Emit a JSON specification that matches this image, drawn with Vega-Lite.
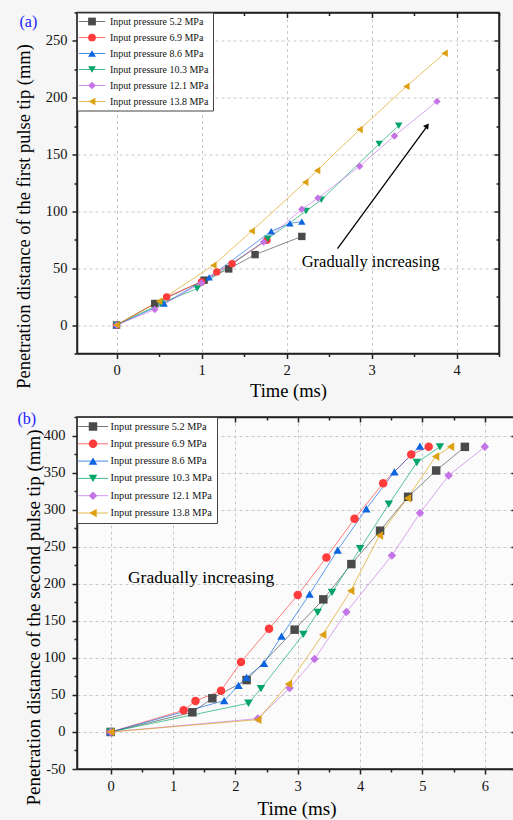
{
  "$schema": "https://vega.github.io/schema/vega-lite/v6.json",
  "background": "#f6f6f6",
  "padding": {"left": 14, "top": 3.5, "right": 0, "bottom": 0},
  "spacing": 6.5,
  "config": {
    "font": "Liberation Serif",
    "view": {"stroke": "#222", "strokeWidth": 1.5},
    "axis": {"labelFont": "Liberation Serif", "titleFont": "Liberation Serif", "titleFontWeight": "normal", "titleColor": "#000", "labelColor": "#111", "tickColor": "#222", "tickWidth": 1.5, "domainColor": "#222", "domainWidth": 1.5, "labelFlush": false, "labelOverlap": false, "gridDash": [3, 3], "gridColor": "#c8c8c8"},
    "legend": {"labelFont": "Liberation Serif", "labelLimit": 300}
  },
  "datasets": {
    "first": [
      {"p": "Input pressure 5.2 MPa", "t": 0, "d": 0},
      {"p": "Input pressure 5.2 MPa", "t": 0.45, "d": 19},
      {"p": "Input pressure 5.2 MPa", "t": 1.03, "d": 39.5},
      {"p": "Input pressure 5.2 MPa", "t": 1.32, "d": 49.4},
      {"p": "Input pressure 5.2 MPa", "t": 1.63, "d": 62},
      {"p": "Input pressure 5.2 MPa", "t": 2.18, "d": 78},
      {"p": "Input pressure 6.9 MPa", "t": 0, "d": 0},
      {"p": "Input pressure 6.9 MPa", "t": 0.59, "d": 24.8},
      {"p": "Input pressure 6.9 MPa", "t": 1.0, "d": 38},
      {"p": "Input pressure 6.9 MPa", "t": 1.18, "d": 46.8},
      {"p": "Input pressure 6.9 MPa", "t": 1.36, "d": 54},
      {"p": "Input pressure 6.9 MPa", "t": 1.77, "d": 74.6},
      {"p": "Input pressure 8.6 MPa", "t": 0, "d": 0},
      {"p": "Input pressure 8.6 MPa", "t": 0.56, "d": 19},
      {"p": "Input pressure 8.6 MPa", "t": 1.09, "d": 42},
      {"p": "Input pressure 8.6 MPa", "t": 1.82, "d": 82.5},
      {"p": "Input pressure 8.6 MPa", "t": 2.04, "d": 89.5},
      {"p": "Input pressure 8.6 MPa", "t": 2.18, "d": 91},
      {"p": "Input pressure 10.3 MPa", "t": 0, "d": 0},
      {"p": "Input pressure 10.3 MPa", "t": 0.52, "d": 19},
      {"p": "Input pressure 10.3 MPa", "t": 0.95, "d": 32.2},
      {"p": "Input pressure 10.3 MPa", "t": 1.78, "d": 76},
      {"p": "Input pressure 10.3 MPa", "t": 2.23, "d": 100.3},
      {"p": "Input pressure 10.3 MPa", "t": 2.41, "d": 110.2},
      {"p": "Input pressure 10.3 MPa", "t": 3.09, "d": 159.4},
      {"p": "Input pressure 10.3 MPa", "t": 3.32, "d": 175.4},
      {"p": "Input pressure 12.1 MPa", "t": 0, "d": 0},
      {"p": "Input pressure 12.1 MPa", "t": 0.45, "d": 13.7},
      {"p": "Input pressure 12.1 MPa", "t": 1.0, "d": 37.1},
      {"p": "Input pressure 12.1 MPa", "t": 1.73, "d": 73},
      {"p": "Input pressure 12.1 MPa", "t": 2.18, "d": 102},
      {"p": "Input pressure 12.1 MPa", "t": 2.37, "d": 111.7},
      {"p": "Input pressure 12.1 MPa", "t": 2.86, "d": 139.8},
      {"p": "Input pressure 12.1 MPa", "t": 3.27, "d": 166.4},
      {"p": "Input pressure 12.1 MPa", "t": 3.77, "d": 196.8},
      {"p": "Input pressure 13.8 MPa", "t": 0, "d": 0},
      {"p": "Input pressure 13.8 MPa", "t": 0.5, "d": 21},
      {"p": "Input pressure 13.8 MPa", "t": 1.14, "d": 52.6},
      {"p": "Input pressure 13.8 MPa", "t": 1.59, "d": 82.7},
      {"p": "Input pressure 13.8 MPa", "t": 2.22, "d": 125.7},
      {"p": "Input pressure 13.8 MPa", "t": 2.36, "d": 136},
      {"p": "Input pressure 13.8 MPa", "t": 2.86, "d": 172},
      {"p": "Input pressure 13.8 MPa", "t": 3.41, "d": 210},
      {"p": "Input pressure 13.8 MPa", "t": 3.86, "d": 239.2}
    ],
    "second": [
      {"p": "Input pressure 5.2 MPa", "t": 0, "d": 0},
      {"p": "Input pressure 5.2 MPa", "t": 1.31, "d": 26.5},
      {"p": "Input pressure 5.2 MPa", "t": 1.63, "d": 45.4},
      {"p": "Input pressure 5.2 MPa", "t": 2.18, "d": 70},
      {"p": "Input pressure 5.2 MPa", "t": 2.95, "d": 138},
      {"p": "Input pressure 5.2 MPa", "t": 3.41, "d": 178.9},
      {"p": "Input pressure 5.2 MPa", "t": 3.86, "d": 226.5},
      {"p": "Input pressure 5.2 MPa", "t": 4.32, "d": 271.5},
      {"p": "Input pressure 5.2 MPa", "t": 4.77, "d": 317.3},
      {"p": "Input pressure 5.2 MPa", "t": 5.22, "d": 352.8},
      {"p": "Input pressure 5.2 MPa", "t": 5.68, "d": 384.7},
      {"p": "Input pressure 6.9 MPa", "t": 0, "d": 0},
      {"p": "Input pressure 6.9 MPa", "t": 1.17, "d": 29.2},
      {"p": "Input pressure 6.9 MPa", "t": 1.36, "d": 41.8},
      {"p": "Input pressure 6.9 MPa", "t": 1.77, "d": 55.7},
      {"p": "Input pressure 6.9 MPa", "t": 2.09, "d": 94.4},
      {"p": "Input pressure 6.9 MPa", "t": 2.54, "d": 139.3},
      {"p": "Input pressure 6.9 MPa", "t": 3.0, "d": 184.7},
      {"p": "Input pressure 6.9 MPa", "t": 3.46, "d": 235.5},
      {"p": "Input pressure 6.9 MPa", "t": 3.91, "d": 287.6},
      {"p": "Input pressure 6.9 MPa", "t": 4.37, "d": 335.7},
      {"p": "Input pressure 6.9 MPa", "t": 4.82, "d": 374.4},
      {"p": "Input pressure 6.9 MPa", "t": 5.1, "d": 384.7},
      {"p": "Input pressure 8.6 MPa", "t": 0, "d": 0},
      {"p": "Input pressure 8.6 MPa", "t": 1.82, "d": 42.2},
      {"p": "Input pressure 8.6 MPa", "t": 2.05, "d": 62.9},
      {"p": "Input pressure 8.6 MPa", "t": 2.18, "d": 73.7},
      {"p": "Input pressure 8.6 MPa", "t": 2.46, "d": 92.6},
      {"p": "Input pressure 8.6 MPa", "t": 2.74, "d": 129.4},
      {"p": "Input pressure 8.6 MPa", "t": 3.19, "d": 186},
      {"p": "Input pressure 8.6 MPa", "t": 3.64, "d": 245.4},
      {"p": "Input pressure 8.6 MPa", "t": 4.1, "d": 301.1},
      {"p": "Input pressure 8.6 MPa", "t": 4.55, "d": 351},
      {"p": "Input pressure 8.6 MPa", "t": 4.96, "d": 385.6},
      {"p": "Input pressure 10.3 MPa", "t": 0, "d": 0},
      {"p": "Input pressure 10.3 MPa", "t": 2.21, "d": 38.7},
      {"p": "Input pressure 10.3 MPa", "t": 2.41, "d": 58.4},
      {"p": "Input pressure 10.3 MPa", "t": 3.09, "d": 131.7},
      {"p": "Input pressure 10.3 MPa", "t": 3.32, "d": 161.3},
      {"p": "Input pressure 10.3 MPa", "t": 3.55, "d": 188.3},
      {"p": "Input pressure 10.3 MPa", "t": 4.0, "d": 247.2},
      {"p": "Input pressure 10.3 MPa", "t": 4.46, "d": 307.4},
      {"p": "Input pressure 10.3 MPa", "t": 4.91, "d": 363.6},
      {"p": "Input pressure 10.3 MPa", "t": 5.28, "d": 384.7},
      {"p": "Input pressure 12.1 MPa", "t": 0, "d": 0},
      {"p": "Input pressure 12.1 MPa", "t": 2.36, "d": 18},
      {"p": "Input pressure 12.1 MPa", "t": 2.87, "d": 59.3},
      {"p": "Input pressure 12.1 MPa", "t": 3.27, "d": 98.4},
      {"p": "Input pressure 12.1 MPa", "t": 3.78, "d": 161.8},
      {"p": "Input pressure 12.1 MPa", "t": 4.51, "d": 238.2},
      {"p": "Input pressure 12.1 MPa", "t": 4.96, "d": 295.3},
      {"p": "Input pressure 12.1 MPa", "t": 5.42, "d": 346},
      {"p": "Input pressure 12.1 MPa", "t": 6.0, "d": 384.7},
      {"p": "Input pressure 13.8 MPa", "t": 0, "d": 0},
      {"p": "Input pressure 13.8 MPa", "t": 2.36, "d": 16.6},
      {"p": "Input pressure 13.8 MPa", "t": 2.85, "d": 64.7},
      {"p": "Input pressure 13.8 MPa", "t": 3.4, "d": 131.2},
      {"p": "Input pressure 13.8 MPa", "t": 3.85, "d": 190.6},
      {"p": "Input pressure 13.8 MPa", "t": 4.31, "d": 265.2},
      {"p": "Input pressure 13.8 MPa", "t": 4.76, "d": 315.5},
      {"p": "Input pressure 13.8 MPa", "t": 5.21, "d": 371.7},
      {"p": "Input pressure 13.8 MPa", "t": 5.45, "d": 384.7}
    ]
  },
  "vconcat": [
    {
      "width": 422,
      "height": 341,
      "view": {"fill": "white"},
      "data": {"name": "first"},
      "layer": [
        {
          "mark": {"type": "line", "strokeWidth": 1, "opacity": 0.65},
          "encoding": {
            "x": {"field": "t", "type": "quantitative", "scale": {"domain": [-0.465, 4.5], "nice": false, "zero": false},
              "axis": {"orient": "bottom", "title": "Time (ms)", "titleFontSize": 18.5, "titlePadding": 4.5,
                "values": [0, 0.5, 1, 1.5, 2, 2.5, 3, 3.5, 4, 4.5],
                "labelExpr": "datum.value % 1 === 0 ? '' + datum.value : ''", "labelFontSize": 14.5, "labelPadding": 5,
                "tickSize": {"condition": {"test": "datum.value % 1 === 0", "value": 5}, "value": 3},
                "grid": true, "gridOpacity": {"condition": {"test": "datum.value % 1 === 0", "value": 1}, "value": 0}}},
            "y": {"field": "d", "type": "quantitative", "scale": {"domain": [-25, 275], "nice": false, "zero": false},
              "axis": {"orient": "left", "title": "Penetration distance of the first pulse tip (mm)", "titleFontSize": 18.5, "titlePadding": 11.5, "titleY": 203.5,
                "values": [-25, 0, 25, 50, 75, 100, 125, 150, 175, 200, 225, 250, 275],
                "labelExpr": "datum.value % 50 === 0 ? '' + datum.value : ''", "labelFontSize": 14.5, "labelPadding": 5,
                "tickSize": {"condition": {"test": "datum.value % 50 === 0", "value": 5}, "value": 3},
                "grid": true, "gridOpacity": {"condition": {"test": "datum.value % 50 === 0", "value": 1}, "value": 0}}},
            "color": {"field": "p", "type": "nominal",
              "scale": {"domain": ["Input pressure 5.2 MPa", "Input pressure 6.9 MPa", "Input pressure 8.6 MPa", "Input pressure 10.3 MPa", "Input pressure 12.1 MPa", "Input pressure 13.8 MPa"],
                "range": ["#4a4a4a", "#ff3b3b", "#0d66e0", "#00a468", "#c474e6", "#dca010"]},
              "legend": {"orient": "none", "legendX": 0, "legendY": 0, "title": null, "symbolType": "M-3.3,0H3.3", "symbolSize": 64, "symbolStrokeWidth": 1, "symbolOpacity": 0.75, "symbolOffset": 6,
                "labelExpr": "''", "labelFontSize": 10, "labelOffset": 13, "padding": 4, "rowPadding": 6, "zindex": 2}}
          }
        },
        {
          "mark": {"type": "point", "filled": true, "size": 55, "opacity": 1},
          "encoding": {
            "x": {"field": "t", "type": "quantitative",
              "axis": {"orient": "top", "title": "(a)", "titleX": -58, "titleY": 1, "titleAngle": 0, "titleAlign": "left", "titleBaseline": "top", "titleColor": "#1a1aff", "titleFontSize": 16, "labels": false, "grid": false,
                "values": [0, 0.5, 1, 1.5, 2, 2.5, 3, 3.5, 4, 4.5],
                "tickSize": {"condition": {"test": "datum.value % 1 === 0", "value": -5}, "value": -3}}},
            "y": {"field": "d", "type": "quantitative",
              "axis": {"orient": "right", "title": null, "labels": false, "grid": false,
                "values": [-25, 0, 25, 50, 75, 100, 125, 150, 175, 200, 225, 250, 275],
                "tickSize": {"condition": {"test": "datum.value % 50 === 0", "value": -5}, "value": -3}}},
            "color": {"field": "p", "type": "nominal",
              "legend": {"orient": "none", "legendX": 0, "legendY": 0, "title": null, "symbolSize": 60, "symbolStrokeWidth": 0, "symbolOffset": 6,
                "labelFontSize": 10, "labelOffset": 13, "padding": 4, "rowPadding": 6, "labelColor": "#111",
                "fillColor": "white", "strokeColor": "#444", "zindex": 1}},
            "shape": {"field": "p", "type": "nominal",
              "scale": {"domain": ["Input pressure 5.2 MPa", "Input pressure 6.9 MPa", "Input pressure 8.6 MPa", "Input pressure 10.3 MPa", "Input pressure 12.1 MPa", "Input pressure 13.8 MPa"],
                "range": ["square", "circle", "triangle-up", "triangle-down", "diamond", "triangle-left"]},
              "legend": {"orient": "none", "legendX": 0, "legendY": 0, "title": null, "symbolSize": 60, "symbolStrokeWidth": 0, "symbolOffset": 6,
                "labelFontSize": 10, "labelOffset": 13, "padding": 4, "rowPadding": 6, "labelColor": "#111",
                "fillColor": "white", "strokeColor": "#444", "zindex": 1}}
          }
        },
        {
          "data": {"values": [{"t": 2.99, "d": 55.5, "label": "Gradually increasing"}]},
          "mark": {"type": "text", "fontSize": 16.5, "font": "Liberation Serif", "color": "#000"},
          "encoding": {
            "x": {"field": "t", "type": "quantitative", "axis": null},
            "y": {"field": "d", "type": "quantitative", "axis": null},
            "text": {"field": "label"}
          }
        },
        {
          "data": {"values": [{"t": 2.6, "d": 67.3, "t2": 3.64, "d2": 173.5}]},
          "mark": {"type": "rule", "strokeWidth": 1.3, "color": "#000"},
          "encoding": {
            "x": {"field": "t", "type": "quantitative", "axis": null},
            "y": {"field": "d", "type": "quantitative", "axis": null},
            "x2": {"field": "t2"},
            "y2": {"field": "d2"}
          }
        },
        {
          "data": {"values": [{"t": 3.655, "d": 175.5}]},
          "mark": {"type": "point", "shape": "triangle-up", "angle": 36, "filled": true, "color": "#000", "size": 40, "opacity": 1},
          "encoding": {
            "x": {"field": "t", "type": "quantitative", "axis": null},
            "y": {"field": "d", "type": "quantitative", "axis": null}
          }
        }
      ],
      "resolve": {"axis": {"x": "independent", "y": "independent"}, "legend": {"color": "independent", "shape": "independent"}}
    },
    {
      "width": 439,
      "height": 352,
      "view": {"fill": "#fbfbfb"},
      "data": {"name": "second"},
      "layer": [
        {
          "mark": {"type": "line", "strokeWidth": 1, "opacity": 0.65},
          "encoding": {
            "x": {"field": "t", "type": "quantitative", "scale": {"domain": [-0.54, 6.5], "nice": false, "zero": false},
              "axis": {"orient": "bottom", "title": "Time (ms)", "titleFontSize": 19, "titlePadding": 7,
                "values": [0, 0.5, 1, 1.5, 2, 2.5, 3, 3.5, 4, 4.5, 5, 5.5, 6, 6.5],
                "labelExpr": "datum.value % 1 === 0 ? '' + datum.value : ''", "labelFontSize": 14.5, "labelPadding": 5,
                "tickSize": {"condition": {"test": "datum.value % 1 === 0", "value": 5}, "value": 3},
                "grid": true, "gridOpacity": {"condition": {"test": "datum.value % 1 === 0", "value": 1}, "value": 0}}},
            "y": {"field": "d", "type": "quantitative", "scale": {"domain": [-50, 425], "nice": false, "zero": false},
              "axis": {"orient": "left", "title": "Penetration distance of the second pulse tip (mm)", "titleFontSize": 19, "titlePadding": 0, "titleY": 200,
                "values": [-50, -25, 0, 25, 50, 75, 100, 125, 150, 175, 200, 225, 250, 275, 300, 325, 350, 375, 400, 425],
                "labelExpr": "datum.value % 50 === 0 ? '' + datum.value : ''", "labelFontSize": 14.5, "labelPadding": 7,
                "tickSize": {"condition": {"test": "datum.value % 50 === 0", "value": 5}, "value": 3},
                "grid": true, "gridOpacity": {"condition": {"test": "datum.value % 50 === 0", "value": 1}, "value": 0}}},
            "color": {"field": "p", "type": "nominal",
              "scale": {"domain": ["Input pressure 5.2 MPa", "Input pressure 6.9 MPa", "Input pressure 8.6 MPa", "Input pressure 10.3 MPa", "Input pressure 12.1 MPa", "Input pressure 13.8 MPa"],
                "range": ["#4a4a4a", "#ff3b3b", "#0d66e0", "#00a468", "#c474e6", "#dca010"]},
              "legend": {"orient": "none", "legendX": 0, "legendY": 0, "title": null, "symbolType": "M-3.54,0H3.54", "symbolSize": 72, "symbolStrokeWidth": 1, "symbolOpacity": 0.75, "symbolOffset": 6.5,
                "labelExpr": "''", "labelFontSize": 10.3, "labelOffset": 12.35, "padding": 4.35, "rowPadding": 6.3, "zindex": 2}}
          }
        },
        {
          "mark": {"type": "point", "filled": true, "size": 72, "opacity": 1},
          "encoding": {
            "x": {"field": "t", "type": "quantitative",
              "axis": {"orient": "top", "title": "(b)", "titleX": -60, "titleY": -7, "titleAngle": 0, "titleAlign": "left", "titleBaseline": "top", "titleColor": "#1a1aff", "titleFontSize": 16, "labels": false, "grid": false,
                "values": [0, 0.5, 1, 1.5, 2, 2.5, 3, 3.5, 4, 4.5, 5, 5.5, 6, 6.5],
                "tickSize": {"condition": {"test": "datum.value % 1 === 0", "value": -5}, "value": -3}}},
            "y": {"field": "d", "type": "quantitative",
              "axis": {"orient": "right", "title": null, "labels": false, "grid": false,
                "values": [-50, -25, 0, 25, 50, 75, 100, 125, 150, 175, 200, 225, 250, 275, 300, 325, 350, 375, 400, 425],
                "tickSize": {"condition": {"test": "datum.value % 50 === 0", "value": -5}, "value": -3}}},
            "color": {"field": "p", "type": "nominal",
              "legend": {"orient": "none", "legendX": 0, "legendY": 0, "title": null, "symbolSize": 72, "symbolStrokeWidth": 0, "symbolOffset": 6.5,
                "labelFontSize": 10.3, "labelOffset": 12.35, "padding": 4.35, "rowPadding": 6.3, "labelColor": "#111",
                "fillColor": "white", "strokeColor": "#444", "zindex": 1}},
            "shape": {"field": "p", "type": "nominal",
              "scale": {"domain": ["Input pressure 5.2 MPa", "Input pressure 6.9 MPa", "Input pressure 8.6 MPa", "Input pressure 10.3 MPa", "Input pressure 12.1 MPa", "Input pressure 13.8 MPa"],
                "range": ["square", "circle", "triangle-up", "triangle-down", "diamond", "triangle-left"]},
              "legend": {"orient": "none", "legendX": 0, "legendY": 0, "title": null, "symbolSize": 72, "symbolStrokeWidth": 0, "symbolOffset": 6.5,
                "labelFontSize": 10.3, "labelOffset": 12.35, "padding": 4.35, "rowPadding": 6.3, "labelColor": "#111",
                "fillColor": "white", "strokeColor": "#444", "zindex": 1}}
          }
        },
        {
          "data": {"values": [{"t": 1.45, "d": 207.6, "label": "Gradually increasing"}]},
          "mark": {"type": "text", "fontSize": 17.5, "font": "Liberation Serif", "color": "#000"},
          "encoding": {
            "x": {"field": "t", "type": "quantitative", "axis": null},
            "y": {"field": "d", "type": "quantitative", "axis": null},
            "text": {"field": "label"}
          }
        }
      ],
      "resolve": {"axis": {"x": "independent", "y": "independent"}, "legend": {"color": "independent", "shape": "independent"}}
    }
  ],
  "resolve": {"scale": {"color": "independent", "shape": "independent"}, "legend": {"color": "independent", "shape": "independent"}}
}
